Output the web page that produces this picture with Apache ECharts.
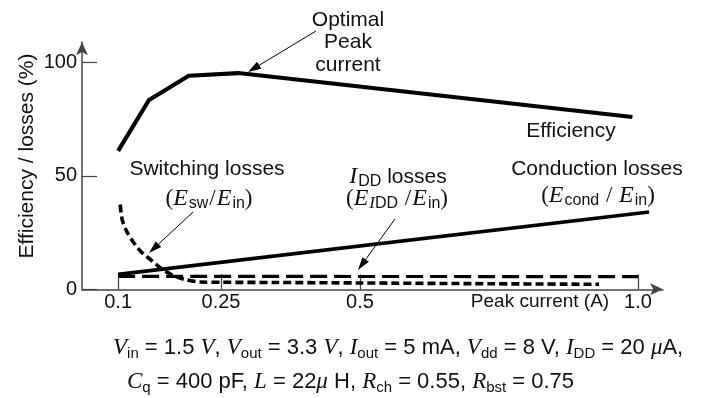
<!DOCTYPE html>
<html><head><meta charset="utf-8">
<script src="https://cdn.jsdelivr.net/npm/echarts@6/dist/echarts.min.js"></script>
<style>html,body{margin:0;padding:0;background:#fff}#c{width:704px;height:398px}</style>
</head><body><div id="c"></div>
<script>
// ---- data ----
const xTickValues = [0.1, 0.25, 0.5, 1.0];
const xTickLabels = ['0.1', '0.25', '0.5', '1.0'];
const yTickValues = [0, 50, 100];
const efficiencyX = [0.1, 0.145, 0.203, 0.281, 0.99];
const efficiencyY = [61.1, 83.5, 94.2, 95.4, 76.0];
const conductionX = [0.1, 1.02];
const conductionY = [6.6, 34.1];
const iddX = [0.1, 1.0];
const iddY = [5.7, 5.6];
const switchingX = [0.103, 0.106, 0.113, 0.122, 0.133, 0.148, 0.162, 0.179, 0.198, 0.220, 0.25, 0.35, 0.5, 0.7, 0.93];
const switchingY = [37.4, 30.6, 25.3, 20.9, 16.7, 12.9, 9.4, 6.3, 4.3, 3.2, 3.1, 3.0, 2.8, 2.5, 2.2];

// The original figure's current axis is linear except that the first
// segment (0.1 .. 0.25) is drawn stretched; warp() reproduces that scale.
const firstTickAt = 0.065;
function warp(c) {
  return c >= 0.25 ? c : firstTickAt + (c - 0.1) * (0.25 - firstTickAt) / 0.15;
}
function pairs(xs, ys) { return xs.map((x, i) => [warp(x), ys[i]]); }

const SANS = '"Liberation Sans", Arial, sans-serif';
const SERIF = '"Liberation Serif", "Times New Roman", serif';
const INK = '#111';
const R = {
  n: { font: `21px ${SANS}`, lineHeight: 26, fill: INK },
  p: { font: `23px ${SERIF}`, lineHeight: 26, fill: INK },
  sl: { font: `23px ${SERIF}`, lineHeight: 26, fill: INK, padding: [0, 1, 0, 1] },
  v: { font: `italic 24px ${SERIF}`, lineHeight: 26, fill: INK, padding: [0, 1, 0, 0] },
  s: { font: `16px ${SANS}`, lineHeight: 12, verticalAlign: 'bottom', fill: INK },
  si: { font: `italic 17px ${SERIF}`, lineHeight: 12, verticalAlign: 'bottom', fill: INK },
  b: { font: `22px ${SANS}`, lineHeight: 26, fill: INK },
  bv: { font: `italic 23px ${SERIF}`, lineHeight: 26, fill: INK },
  bs: { font: `15px ${SANS}`, lineHeight: 12, verticalAlign: 'bottom', fill: INK },
  t: { font: `19px ${SANS}`, lineHeight: 24, fill: INK }
};

function txt(x, y, text, align, extra) {
  return Object.assign({
    type: 'text', x: x, y: y, z: 10,
    style: { text: text, align: align || 'center', verticalAlign: 'middle', rich: R, font: `21px ${SANS}`, fill: INK }
  }, extra || {});
}
function arrow(x1, y1, x2, y2) {
  const a = Math.atan2(y2 - y1, x2 - x1), L = 13, W = 4;
  const bx = x2 - L * Math.cos(a), by = y2 - L * Math.sin(a);
  const p1 = [bx + W * Math.sin(a), by - W * Math.cos(a)];
  const p2 = [bx - W * Math.sin(a), by + W * Math.cos(a)];
  return [
    { type: 'line', z: 10, shape: { x1: x1, y1: y1, x2: bx, y2: by }, style: { stroke: '#000', lineWidth: 1 } },
    { type: 'polygon', z: 10, shape: { points: [[x2, y2], p1, p2] }, style: { fill: '#000' } }
  ];
}

const chart = echarts.init(document.getElementById('c'), null, { renderer: 'canvas' });
const axisColor = '#444';
chart.setOption({
  animation: false,
  backgroundColor: '#fff',
  grid: { left: 82, top: 42.2, width: 581, height: 247.1, containLabel: false, outerBoundsMode: 'none' },
  xAxis: {
    type: 'value', min: 0, max: 1.045,
    splitLine: { show: false },
    axisLine: { lineStyle: { color: axisColor, width: 1.5 }, symbol: ['none', 'arrow'], symbolSize: [9, 13] },
    axisTick: { inside: true, length: 15, customValues: xTickValues.map(warp), lineStyle: { color: axisColor, width: 1.2 } },
    axisLabel: {
      customValues: xTickValues.map(warp), margin: 3,
      fontFamily: SANS, fontSize: 20, color: INK,
      formatter: function (v) {
        let best = 0;
        xTickValues.forEach((t, i) => { if (Math.abs(warp(t) - v) < Math.abs(warp(xTickValues[best]) - v)) best = i; });
        return xTickLabels[best];
      }
    }
  },
  yAxis: {
    type: 'value', min: 0, max: 109,
    splitLine: { show: false },
    axisLine: { show: true, lineStyle: { color: axisColor, width: 1.5 }, symbol: ['none', 'arrow'], symbolSize: [9, 13] },
    axisTick: { show: true, inside: true, length: 15, customValues: yTickValues, lineStyle: { color: axisColor, width: 1.2 } },
    axisLabel: { customValues: yTickValues, margin: 5, fontFamily: SANS, fontSize: 20, color: INK }
  },
  series: [
    { name: 'Efficiency', type: 'line', symbol: 'none', data: pairs(efficiencyX, efficiencyY),
      lineStyle: { color: '#000', width: 4.2, join: 'round' } },
    { name: 'Conduction losses', type: 'line', symbol: 'none', data: pairs(conductionX, conductionY),
      lineStyle: { color: '#000', width: 3.6 } },
    { name: 'IDD losses', type: 'line', symbol: 'none', data: pairs(iddX, iddY),
      lineStyle: { color: '#000', width: 3.2, type: [17, 7] } },
    { name: 'Switching losses', type: 'line', symbol: 'none', smooth: 0.3, data: pairs(switchingX, switchingY),
      lineStyle: { color: '#000', width: 3.6, type: [8, 4] } }
  ],
  graphic: [
    txt(348, 42.5, '', 'center', { style: { text: 'Optimal\nPeak\ncurrent', align: 'center', verticalAlign: 'middle', font: `21px ${SANS}`, lineHeight: 22.5, fill: INK } }),
    txt(571, 131, '{n|Efficiency}'),
    txt(207, 169, '{n|Switching losses}'),
    txt(209, 199, '{p|(}{v|E}{s|sw}{sl|/}{v|E}{s|in}{p|)}'),
    txt(398, 177, '{v|I}{s|DD}{n| losses}'),
    txt(397, 199, '{p|(}{v|E}{si|I}{s|DD}{sl| /}{v|E}{s|in}{p|)}'),
    txt(597, 169, '{n|Conduction losses}'),
    txt(598, 196, '{p|(}{v|E}{s|cond}{sl| / }{v|E}{s|in}{p|)}'),
    txt(540, 302, '{t|Peak current (A)}'),
    txt(27, 156, '{n|Efficiency / losses (%)}', 'center', { rotation: Math.PI / 2 }),
    txt(113, 348, '{bv|V}{bs|in}{b| = 1.5 }{bv|V}{b|, }{bv|V}{bs|out}{b| = 3.3 }{bv|V}{b|, }{bv|I}{bs|out}{b| = 5 mA, }{bv|V}{bs|dd}{b| = 8 V, }{bv|I}{bs|DD}{b| = 20 }{bv|μ}{b|A,}', 'left'),
    txt(127, 382, '{bv|C}{bs|q}{b| = 400 pF, }{bv|L}{b| = 22}{bv|μ}{b| H, }{bv|R}{bs|ch}{b| = 0.55, }{bv|R}{bs|bst}{b| = 0.75}', 'left')
  ].concat(arrow(316, 31, 248, 72), arrow(193, 212, 149, 253), arrow(395, 219, 358, 270))
});
</script>
</body></html>
